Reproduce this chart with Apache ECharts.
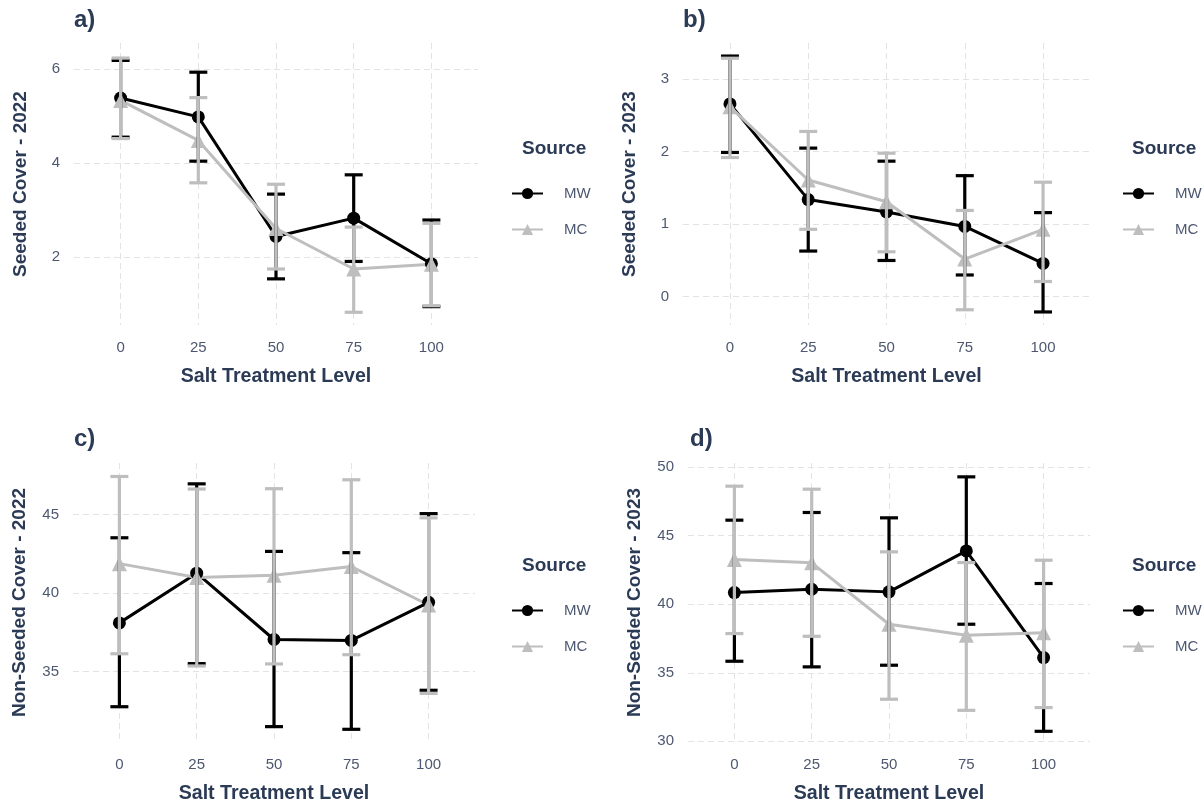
<!DOCTYPE html>
<html><head><meta charset="utf-8">
<script src="https://cdn.jsdelivr.net/npm/echarts@6/dist/echarts.min.js"></script>
<style>html,body{margin:0;padding:0;background:#fff}#chart{width:1204px;height:808px}</style>
</head><body><div id="chart"></div>
<script>
// ---- data ----
const levels = [0, 25, 50, 75, 100];
const xTickLabels = ['0', '25', '50', '75', '100'];
const sourceNames = ['MW', 'MC'];

// a) Seeded Cover - 2022
const aMWMean = [5.38, 4.98, 2.44, 2.83, 1.86];
const aMWLow  = [4.55, 4.04, 1.54, 1.91, 0.95];
const aMWHigh = [6.18, 5.93, 3.34, 3.75, 2.79];
const aMCMean = [5.33, 4.48, 2.61, 1.75, 1.85];
const aMCLow  = [4.52, 3.58, 1.75, 0.83, 0.97];
const aMCHigh = [6.23, 5.39, 3.55, 2.64, 2.72];
const aYTicks = [2, 4, 6];

// b) Seeded Cover - 2023
const bMWMean = [2.66, 1.34, 1.17, 0.97, 0.46];
const bMWLow  = [1.99, 0.63, 0.50, 0.30, -0.21];
const bMWHigh = [3.32, 2.05, 1.87, 1.67, 1.16];
const bMCMean = [2.62, 1.61, 1.31, 0.52, 0.93];
const bMCLow  = [1.92, 0.93, 0.62, -0.18, 0.21];
const bMCHigh = [3.29, 2.28, 1.98, 1.19, 1.58];
const bYTicks = [0, 1, 2, 3];

// c) Non-Seeded Cover - 2022
const cMWMean = [38.10, 41.27, 37.04, 36.98, 39.41];
const cMWLow  = [32.75, 35.50, 31.48, 31.31, 33.80];
const cMWHigh = [43.53, 46.97, 42.66, 42.58, 45.07];
const cMCMean = [41.88, 41.00, 41.14, 41.69, 39.24];
const cMCLow  = [36.13, 35.35, 35.48, 36.07, 33.60];
const cMCHigh = [47.44, 46.64, 46.66, 47.23, 44.80];
const cYTicks = [35, 40, 45];

// d) Non-Seeded Cover - 2023
const dMWMean = [40.85, 41.09, 40.90, 43.89, 36.11];
const dMWLow  = [35.84, 35.43, 35.55, 38.54, 30.73];
const dMWHigh = [46.13, 46.69, 46.30, 49.29, 41.51];
const dMCMean = [43.26, 43.02, 38.54, 37.74, 37.91];
const dMCLow  = [37.86, 37.66, 33.07, 32.26, 32.46];
const dMCHigh = [48.61, 48.39, 43.82, 43.04, 43.21];
const dYTicks = [30, 35, 40, 45, 50];

// ---- layout / style ----
const TITLE_COLOR = '#2b3a55';
const TICK_COLOR = '#4d5870';
const GRID_COLOR = '#e3e3e3';
const FONT = 'Liberation Sans, Arial, sans-serif';
const COLORS = {MW: '#000000', MC: '#bebebe'};
const SYMBOLS = {MW: 'circle', MC: 'triangle'};

const panels = [
  {tag: 'a)', yTitle: 'Seeded Cover - 2022', grid: {left: 74, top: 43, width: 404, height: 282},
   yMin: 0.56, yMax: 6.55, yTicks: aYTicks,
   MW: [aMWMean, aMWLow, aMWHigh], MC: [aMCMean, aMCLow, aMCHigh],
   tagPos: [74, 8], srcPos: [522, 139], legPos: [511, 186]},
  {tag: 'b)', yTitle: 'Seeded Cover - 2023', grid: {left: 683, top: 43, width: 407, height: 282},
   yMin: -0.39, yMax: 3.50, yTicks: bYTicks,
   MW: [bMWMean, bMWLow, bMWHigh], MC: [bMCMean, bMCLow, bMCHigh],
   tagPos: [683, 8], srcPos: [1132, 139], legPos: [1122, 186]},
  {tag: 'c)', yTitle: 'Non-Seeded Cover - 2022', grid: {left: 73, top: 463, width: 402, height: 279},
   yMin: 30.5, yMax: 48.3, yTicks: cYTicks,
   MW: [cMWMean, cMWLow, cMWHigh], MC: [cMCMean, cMCLow, cMCHigh],
   tagPos: [74, 427], srcPos: [522, 556], legPos: [511, 603]},
  {tag: 'd)', yTitle: 'Non-Seeded Cover - 2023', grid: {left: 688, top: 463, width: 402, height: 279},
   yMin: 29.95, yMax: 50.3, yTicks: dYTicks,
   MW: [dMWMean, dMWLow, dMWHigh], MC: [dMCMean, dMCLow, dMCHigh],
   tagPos: [690, 427], srcPos: [1132, 556], legPos: [1122, 603]}
];

function errRender(color) {
  return function (params, api) {
    const x = api.value(0);
    const lo = api.coord([x, api.value(1)]);
    const hi = api.coord([x, api.value(2)]);
    const hw = 9;
    const style = {stroke: color, lineWidth: 3.2, fill: null};
    return {type: 'group', children: [
      {type: 'line', shape: {x1: lo[0], y1: lo[1], x2: hi[0], y2: hi[1]}, style: style},
      {type: 'line', shape: {x1: lo[0] - hw, y1: lo[1], x2: lo[0] + hw, y2: lo[1]}, style: style},
      {type: 'line', shape: {x1: hi[0] - hw, y1: hi[1], x2: hi[0] + hw, y2: hi[1]}, style: style}
    ]};
  };
}

const option = {
  backgroundColor: '#ffffff',
  animation: false,
  textStyle: {fontFamily: FONT},
  grid: [], xAxis: [], yAxis: [], series: [], title: [], legend: []
};

panels.forEach(function (p, i) {
  option.grid.push(Object.assign({containLabel: false}, p.grid));
  option.xAxis.push({
    type: 'value', gridIndex: i, min: -15, max: 115,
    name: 'Salt Treatment Level', nameLocation: 'middle', nameGap: 42,
    nameTextStyle: {color: TITLE_COLOR, fontSize: 19.6, fontWeight: 'bold', fontFamily: FONT},
    axisLine: {show: false},
    axisTick: {show: false, customValues: levels},
    axisLabel: {customValues: levels, color: TICK_COLOR, fontSize: 15, margin: 15, fontFamily: FONT,
      formatter: function (v) { return xTickLabels[levels.indexOf(v)]; }},
    splitLine: {show: true, lineStyle: {color: GRID_COLOR, width: 1, type: [6, 4]}}
  });
  option.yAxis.push({
    type: 'value', gridIndex: i, min: p.yMin, max: p.yMax,
    name: p.yTitle, nameLocation: 'middle', nameGap: 44,
    nameTextStyle: {color: TITLE_COLOR, fontSize: 19, fontWeight: 'bold', fontFamily: FONT},
    axisLine: {show: false},
    axisTick: {show: false, customValues: p.yTicks},
    axisLabel: {customValues: p.yTicks, color: TICK_COLOR, fontSize: 15, margin: 14, fontFamily: FONT},
    splitLine: {show: true, lineStyle: {color: GRID_COLOR, width: 1, type: [6, 4]}}
  });
  sourceNames.forEach(function (s) {
    const arr = p[s];
    option.series.push({
      name: s, type: 'line', xAxisIndex: i, yAxisIndex: i,
      data: levels.map(function (l, k) { return [l, arr[0][k]]; }),
      symbol: SYMBOLS[s], symbolSize: s === 'MW' ? 13 : 15,
      lineStyle: {color: COLORS[s], width: 3},
      itemStyle: {color: COLORS[s]},
      z: 2
    });
  });
  sourceNames.forEach(function (s) {
    const arr = p[s];
    option.series.push({
      name: s + ' error', type: 'custom', xAxisIndex: i, yAxisIndex: i,
      renderItem: errRender(COLORS[s]),
      encode: {x: 0, y: [1, 2]},
      data: levels.map(function (l, k) { return [l, arr[1][k], arr[2][k]]; }),
      z: 3
    });
  });
  option.title.push({
    text: p.tag, left: p.tagPos[0], top: p.tagPos[1], padding: 0,
    textStyle: {color: TITLE_COLOR, fontSize: 24, fontWeight: 'bold', fontFamily: FONT}
  });
  option.title.push({
    text: 'Source', left: p.srcPos[0], top: p.srcPos[1], padding: 0,
    textStyle: {color: TITLE_COLOR, fontSize: 19, fontWeight: 'bold', fontFamily: FONT}
  });
  option.legend.push({
    data: sourceNames, orient: 'vertical', left: p.legPos[0], top: p.legPos[1], padding: 0,
    itemWidth: 31, itemHeight: 14, itemGap: 21,
    textStyle: {color: TICK_COLOR, fontSize: 15, fontFamily: FONT, padding: [0, 0, 0, 16]}
  });
});

const chart = echarts.init(document.getElementById('chart'), null, {renderer: 'canvas'});
chart.setOption(option);
</script>
</body></html>
